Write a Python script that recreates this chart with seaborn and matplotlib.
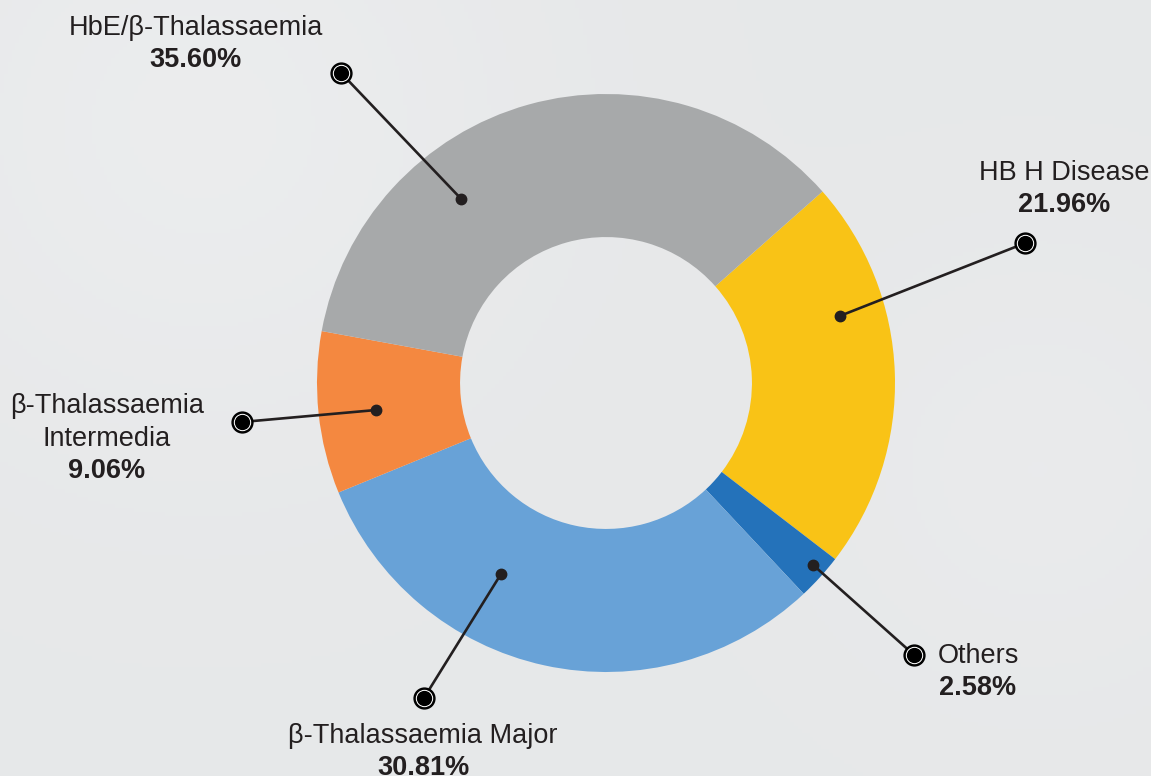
import numpy as np
import matplotlib
matplotlib.use("Agg")
import matplotlib.pyplot as plt
import seaborn as sns

# Data (clockwise from the top-right)
categories = ["HB H Disease", "Others", "β-Thalassaemia Major",
              "β-Thalassaemia\nIntermedia", "HbE/β-Thalassaemia"]
shares = [21.96, 2.58, 30.81, 9.06, 35.60]
pct_labels = ["21.96%", "2.58%", "30.81%", "9.06%", "35.60%"]
colors = ["#F9C316", "#2472BA", "#68A2D7", "#F48840", "#A7A9AA"]

# Layout for leader lines (angle in degrees, radius as fraction of the pie)
dot_angle = [16.0, -41.3, 241.2, 186.7, 128.2]
dot_radius = [0.842, 0.954, 0.754, 0.801, 0.811]
marker_xy = [(1.450, 0.484), (1.066, -0.941), (-0.630, -1.090),
             (-1.260, -0.135), (-0.917, 1.073)]
label_xy = [(1.585, 0.727), (1.287, -0.945), (-0.633, -1.221),
            (-1.727, -0.081), (-1.419, 1.228)]
line_gap = 0.112

sns.set_theme(style="white")
plt.rcParams["font.family"] = ["Liberation Sans", "DejaVu Sans"]

BG = "#E9EAEB"
TXT = "#231F20"

fig = plt.figure(figsize=(11.51, 7.76), dpi=100, facecolor=BG)
ax = fig.add_axes([0, 0, 1, 1])
ax.set_facecolor(BG)

# soft background shading
R = 289.0
xlim = (-606 / R, (1151 - 606) / R)
ylim = (-(776 - 383) / R, 383 / R)
gx, gy = np.meshgrid(np.linspace(*xlim, 300), np.linspace(*ylim, 200))
shade = 0.5 * np.exp(-((gx + 1.4) ** 2 + (gy - 0.9) ** 2) / 1.2) \
    + 0.3 * np.exp(-((gx - 1.5) ** 2 + (gy + 0.3) ** 2) / 0.6)
base = np.array([0.905, 0.910, 0.915])
img = base[None, None, :] + 0.035 * shade[..., None]
ax.imshow(np.clip(img, 0, 1), extent=(*xlim, *ylim), origin="lower",
          aspect="auto", zorder=0)

ax.pie(shares, colors=colors, startangle=41.5, counterclock=False,
       radius=1.0, wedgeprops=dict(width=0.495, edgecolor="none"))

for i in range(len(categories)):
    a = np.deg2rad(dot_angle[i])
    dx, dy = dot_radius[i] * np.cos(a), dot_radius[i] * np.sin(a)
    mx, my = marker_xy[i]
    ax.plot([dx, mx], [dy, my], color=TXT, lw=1.9, zorder=5)
    ax.plot(dx, dy, "o", ms=7.5, color=TXT, zorder=6)
    # bullseye end marker
    ax.plot(mx, my, "o", ms=15, color="black", zorder=6)
    ax.plot(mx, my, "o", ms=11.5, color="white", zorder=7)
    ax.plot(mx, my, "o", ms=10, color="black", zorder=8)

    lx, ly = label_xy[i]
    name_lines = categories[i].split("\n")
    for j, line in enumerate(name_lines):
        ax.text(lx, ly - j * line_gap, line, ha="center", va="center",
                fontsize=19.5, color=TXT, zorder=9)
    ax.text(lx, ly - len(name_lines) * line_gap, pct_labels[i], ha="center",
            va="center", fontsize=19.5, fontweight="bold", color=TXT, zorder=9)

ax.set_xlim(*xlim)
ax.set_ylim(*ylim)
ax.set_aspect("auto")
ax.axis("off")

fig.savefig("out.png", dpi=100, facecolor=BG)
